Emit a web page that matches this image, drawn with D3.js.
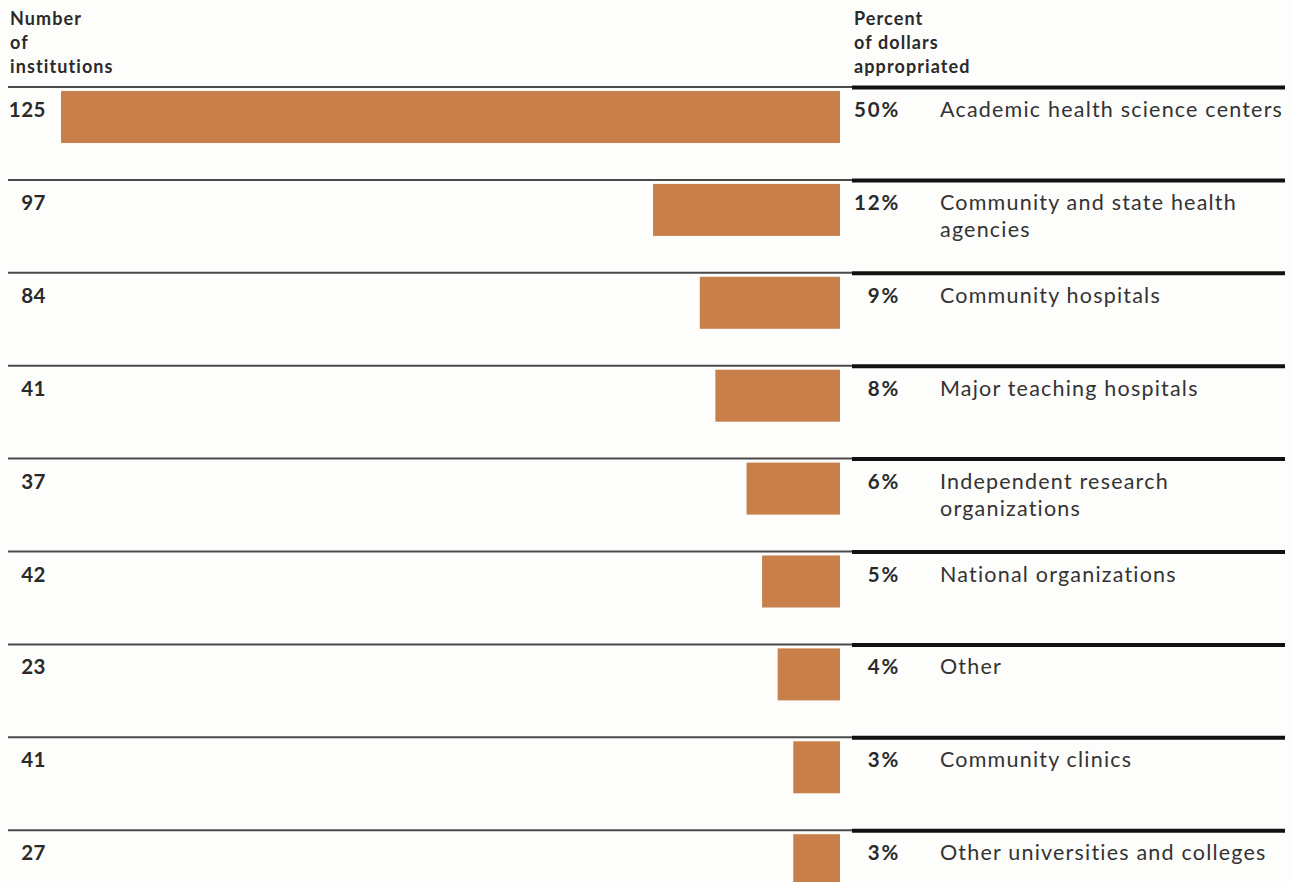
<!DOCTYPE html>
<html>
<head>
<meta charset="utf-8">
<script src="https://cdn.jsdelivr.net/npm/d3@7/dist/d3.min.js"></script>
<style>
  html, body { margin: 0; padding: 0; background: #fdfdfc; }
  svg { display: block; }
</style>
</head>
<body>
<svg id="chart" width="1293" height="882"></svg>
<script>
// Institution categories, top to bottom
const categories = [
  ["Academic health science centers"],
  ["Community and state health", "agencies"],
  ["Community hospitals"],
  ["Major teaching hospitals"],
  ["Independent research", "organizations"],
  ["National organizations"],
  ["Other"],
  ["Community clinics"],
  ["Other universities and colleges"]
];
// Number of institutions in each category
const institutions = [125, 97, 84, 41, 37, 42, 23, 41, 27];
// Percent of dollars appropriated to each category
const percentDollars = [50, 12, 9, 8, 6, 5, 4, 3, 3];

const leftHeader = ["Number", "of", "institutions"];
const rightHeader = ["Percent", "of dollars", "appropriated"];

const svg = d3.select("#chart");
const labelFont = "Lato, 'Open Sans', sans-serif";

const rows = d3.range(categories.length);
const y = d3.scaleBand().domain(rows).range([87, 87 + 92.9 * rows.length]).paddingInner(0).paddingOuter(0);
const barRight = 840;
const x = d3.scaleLinear().domain([0, 50]).range([0, 779]);

// Column headers
function header(lines, xPos) {
  const t = svg.append("text")
    .attr("x", xPos).attr("y", 25)
    .attr("font-family", labelFont)
    .attr("font-weight", 700)
    .attr("font-size", 18)
    .attr("letter-spacing", 1.1)
    .attr("fill", "#2a2a2a");
  lines.forEach((s, i) => t.append("tspan").attr("x", xPos).attr("dy", i === 0 ? 0 : 24).text(s));
}
header(leftHeader, 10);
header(rightHeader, 854);

const row = svg.selectAll("g.row").data(rows).join("g")
  .attr("class", "row")
  .attr("transform", d => `translate(0,${y(d)})`);

// Thin rule across the left part, heavy rule on the label side
row.append("line")
  .attr("x1", 8).attr("x2", 852).attr("y1", 0).attr("y2", 0)
  .attr("stroke", "#4a4a4a").attr("stroke-width", 2);
row.append("line")
  .attr("x1", 852).attr("x2", 1285).attr("y1", 0.5).attr("y2", 0.5)
  .attr("stroke", "#111").attr("stroke-width", 4);

// Bars, right-aligned, length proportional to percent of dollars
row.append("rect")
  .attr("x", d => barRight - x(percentDollars[d]))
  .attr("y", 4)
  .attr("width", d => x(percentDollars[d]))
  .attr("height", 52)
  .attr("fill", "#c87f4a");

// Number of institutions
row.append("text")
  .attr("x", 46).attr("y", 30)
  .attr("text-anchor", "end")
  .attr("font-family", labelFont)
  .attr("font-weight", 700)
  .attr("font-size", 20.5)
  .attr("letter-spacing", 0.5)
  .attr("fill", "#2a2a2a")
  .text(d => institutions[d]);

// Percent labels
row.append("text")
  .attr("x", 900).attr("y", 30)
  .attr("text-anchor", "end")
  .attr("font-family", labelFont)
  .attr("font-weight", 700)
  .attr("font-size", 20.5)
  .attr("letter-spacing", 1.8)
  .attr("fill", "#2a2a2a")
  .text(d => percentDollars[d] + "%");

// Category names
row.append("text")
  .attr("y", 30)
  .attr("font-family", labelFont)
  .attr("font-size", 21.5)
  .attr("letter-spacing", 1.2)
  .attr("fill", "#333")
  .each(function (d) {
    const t = d3.select(this);
    categories[d].forEach((s, i) => t.append("tspan").attr("x", 940).attr("dy", i === 0 ? 0 : 27).text(s));
  });
</script>
</body>
</html>
